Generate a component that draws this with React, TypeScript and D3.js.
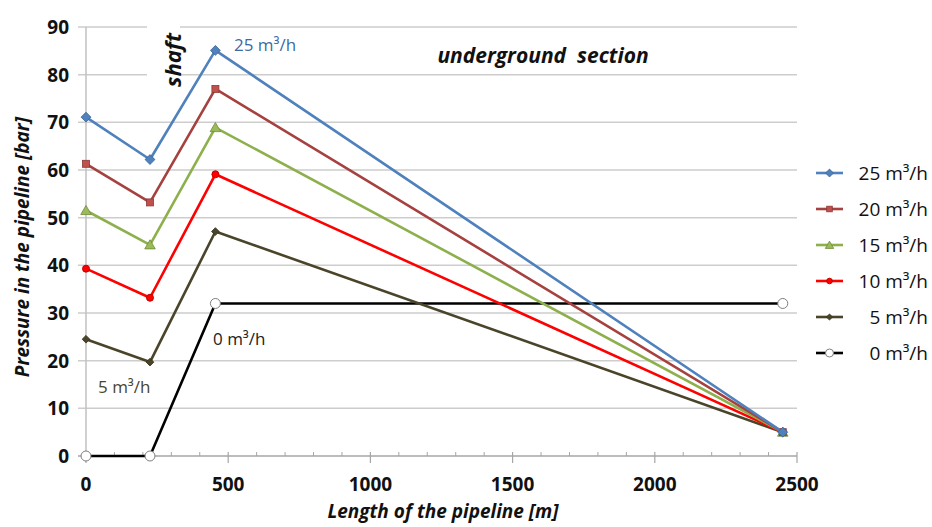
import React from 'react';
import * as d3 from 'd3';

// pipeline chainage [m]
const distances = [0, 225, 455, 2450];

// pressure [bar] per flow rate
const series25 = [71.1, 62.2, 85.1, 5];
const series20 = [61.3, 53.2, 77, 5];
const series15 = [51.5, 44.3, 68.9, 5];
const series10 = [39.3, 33.2, 59.1, 5];
const series5 = [24.5, 19.7, 47.1, 5];
const series0 = [0, 0, 32, 32];

const seriesNames = ['25 m³/h', '20 m³/h', '15 m³/h', '10 m³/h', '5 m³/h', '0 m³/h'];
const yTicks = [0, 10, 20, 30, 40, 50, 60, 70, 80, 90];
const xTicks = [0, 500, 1000, 1500, 2000, 2500];
const xMinorTicks = d3.range(0, 2501, 100);

const styles = [
  { color: '#4f81bd', marker: 'diamond', fill: '#4f81bd', stroke: '#3c6797', size: 9 },
  { color: '#a5413f', marker: 'square', fill: '#c0504d', stroke: '#8c3836', size: 7 },
  { color: '#8db04d', marker: 'triangle', fill: '#9bbb59', stroke: '#6f8a3a', size: 8 },
  { color: '#ff0000', marker: 'circle', fill: '#ff0000', stroke: '#c00000', size: 7 },
  { color: '#4a452a', marker: 'diamond', fill: '#4a452a', stroke: '#35311c', size: 7 },
  { color: '#000000', marker: 'circle', fill: '#ffffff', stroke: '#7f7f7f', size: 10 },
];

const allSeries = [series25, series20, series15, series10, series5, series0];

const font = '"Open Sans", Lato, sans-serif';

const Marker = ({ type, x, y, size, fill, stroke }: any) => {
  if (type === 'diamond') {
    const s = size / 2;
    return <rect x={x - s / 1.3} y={y - s / 1.3} width={s * 1.55} height={s * 1.55} transform={`rotate(45 ${x} ${y})`} fill={fill} stroke={stroke} strokeWidth={0.8} />;
  }
  if (type === 'square') {
    return <rect x={x - size / 2} y={y - size / 2} width={size} height={size} fill={fill} stroke={stroke} strokeWidth={0.8} />;
  }
  if (type === 'triangle') {
    const p = d3.symbol().type(d3.symbolTriangle).size(size * size * 0.75)();
    return <path d={p || ''} transform={`translate(${x},${y + 1})`} fill={fill} stroke={stroke} strokeWidth={0.8} />;
  }
  return <circle cx={x} cy={y} r={size / 2} fill={fill} stroke={stroke} strokeWidth={1} />;
};

export default function App() {
  const width = 932;
  const height = 527;
  const m = { l: 86, r: 135, t: 27, b: 71 };

  const x = d3.scaleLinear().domain([0, 2500]).range([m.l, width - m.r]);
  const y = d3.scaleLinear().domain([0, 90]).range([height - m.b, m.t]);

  const line = d3.line<number>().x((_, i) => x(distances[i])).y(d => y(d));

  return (
    <div style={{ position: 'absolute', left: 0, top: 0 }}>
      <svg width={width} height={height} style={{ display: 'block', background: '#fff' }}>
        {/* grid */}
        {yTicks.filter(t => t > 0).map(t => (
          <line key={t} x1={x(0) - 8} x2={x(2500)} y1={y(t)} y2={y(t)} stroke="#cdcdcd" strokeWidth={1.5} />
        ))}
        {yTicks.map(t => (
          <text key={t} x={69} y={y(t) + 7} textAnchor="end" fontFamily={font} fontWeight="bold" fontSize={19} fill="#111">{t}</text>
        ))}
        {/* y axis */}
        <line x1={x(0)} x2={x(0)} y1={y(0)} y2={y(90)} stroke="#c0c0c0" strokeWidth={1.5} />
        {/* x axis */}
        <line x1={x(0) - 8} x2={x(2500)} y1={y(0)} y2={y(0)} stroke="#a6a6a6" strokeWidth={1.5} />
        {xMinorTicks.filter(t => t % 500 !== 0).map(t => (
          <line key={t} x1={x(t)} x2={x(t)} y1={y(0)} y2={y(0) - 4} stroke="#a6a6a6" strokeWidth={1} />
        ))}
        {xTicks.map(t => (
          <g key={t}>
            <line x1={x(t)} x2={x(t)} y1={y(0) - 4} y2={y(0) + 7} stroke="#a6a6a6" strokeWidth={1.2} />
            <text x={x(t)} y={491} textAnchor="middle" fontFamily={font} fontWeight="bold" fontSize={19} fill="#111">{t}</text>
          </g>
        ))}

        {/* shaft label box */}
        <rect x={147} y={12} width={33} height={80} fill="#fff" />
        <text transform="translate(181,60) rotate(-90)" textAnchor="middle" fontFamily={font} fontWeight="bold" fontStyle="italic" fontSize={22} fill="#111">shaft</text>
        <text x={543} y={63} textAnchor="middle" fontFamily={font} fontWeight="bold" fontStyle="italic" fontSize={21} fill="#111" style={{ whiteSpace: 'pre' }}>underground  section</text>

        {/* series */}
        {allSeries.slice().reverse().map((s, ri) => {
          const i = allSeries.length - 1 - ri;
          const st = styles[i];
          return (
            <g key={i}>
              <path d={line(s) || ''} fill="none" stroke={st.color} strokeWidth={2.6} strokeLinejoin="round" />
              {s.map((v, j) => (
                <Marker key={j} type={st.marker} x={x(distances[j])} y={y(v)} size={st.size} fill={st.fill} stroke={st.stroke} />
              ))}
            </g>
          );
        })}

        {/* inline labels */}
        <text x={234} y={51} fontFamily={font} fontSize={17} fill="#3e6aa1">25 m³/h</text>
        <text x={213} y={345} fontFamily={font} fontSize={17} fill="#222">0 m³/h</text>
        <text x={98} y={393} fontFamily={font} fontSize={17} fill="#4a452a">5 m³/h</text>

        {/* legend */}
        {seriesNames.map((n, i) => {
          const ly = 173 + i * 36;
          const st = styles[i];
          return (
            <g key={n}>
              <line x1={816} x2={843} y1={ly} y2={ly} stroke={st.color} strokeWidth={2.6} />
              <Marker type={st.marker} x={829.5} y={ly} size={st.size * 0.8} fill={st.fill} stroke={st.stroke} />
              <text x={928} y={ly + 7} textAnchor="end" fontFamily={font} fontSize={19} fill="#111">{n}</text>
            </g>
          );
        })}

        {/* axis titles */}
        <text transform="translate(29,247) rotate(-90)" textAnchor="middle" fontFamily={font} fontWeight="bold" fontStyle="italic" fontSize={19} fill="#111">Pressure in the pipeline [bar]</text>
        <text x={443} y={518} textAnchor="middle" fontFamily={font} fontWeight="bold" fontStyle="italic" fontSize={19} fill="#111">Length of the pipeline [m]</text>
      </svg>
    </div>
  );
}
